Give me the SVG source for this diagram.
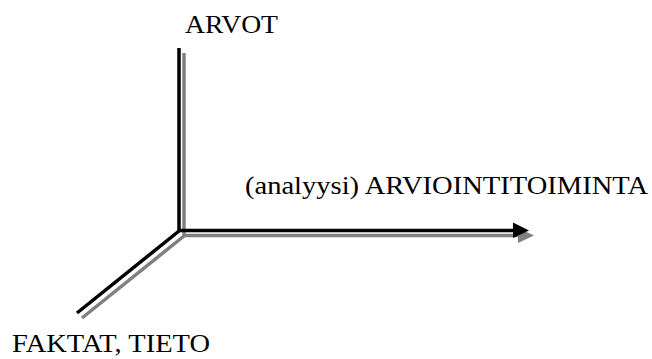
<svg xmlns="http://www.w3.org/2000/svg" width="652" height="359" viewBox="0 0 652 359">
<style>
.lbl{font-family:"Liberation Serif","Times New Roman",serif;font-size:26px;fill:#000}
.sh{stroke:#808080;stroke-width:3.5;fill:none}
.bk{stroke:#000;stroke-width:3.5;fill:none}
</style>
<rect width="652" height="359" fill="#fff"/>
<g id="connectors">
  <line class="sh" x1="184" y1="53" x2="184" y2="236"/>
  <line class="sh" x1="183" y1="235.5" x2="520" y2="235.5"/>
  <polygon points="518,228 534,235.5 518,243" fill="#808080"/>
  <line class="sh" x1="184" y1="236" x2="82" y2="318"/>
  <line class="bk" x1="179" y1="48" x2="179" y2="231"/>
  <line class="bk" x1="178" y1="230.5" x2="515" y2="230.5"/>
  <polygon points="513,222.5 529,230.5 513,238" fill="#000"/>
  <line class="bk" x1="179" y1="231" x2="77" y2="313"/>
</g>
<g id="arvot"><text class="lbl" x="185" y="33" textLength="93" lengthAdjust="spacingAndGlyphs">ARVOT</text></g>
<g id="arviointi"><text class="lbl" x="245" y="194" textLength="403" lengthAdjust="spacingAndGlyphs">(analyysi) ARVIOINTITOIMINTA</text></g>
<g id="faktat"><text class="lbl" x="12" y="352" textLength="198" lengthAdjust="spacingAndGlyphs">FAKTAT, TIETO</text></g>
</svg>
